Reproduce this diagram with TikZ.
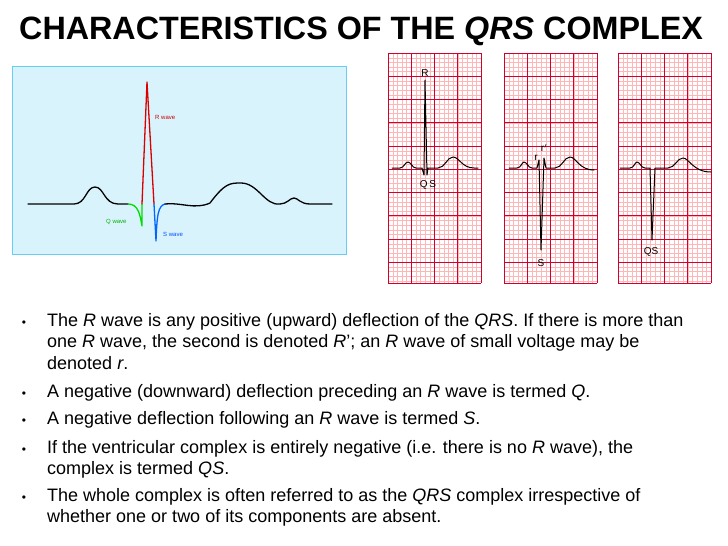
\documentclass[tikz,border=0pt]{standalone}
\usepackage{fontspec}
\setmainfont{Liberation Sans}
\begin{document}
\begin{tikzpicture}[x=1pt,y=-1pt,
  minorg/.style={draw=pink!70!red!60, line width=0.3pt},
  majorg/.style={draw=purple!70!red, line width=0.6pt},
  ecg/.style={line width=1.3pt, line cap=round, line join=round},
  lbl/.style={font=\fontsize{6}{7}\selectfont, inner sep=0pt, anchor=west},
  glbl/.style={font=\fontsize{10}{11}\selectfont, inner sep=0pt},
  bul/.style={anchor=north west, inner sep=0pt, align=left, font=\fontsize{18}{21.7}\selectfont}]
\useasboundingbox (0,0) rectangle (728,546);
\node[anchor=west, inner sep=0pt, font=\fontsize{32.3}{34}\selectfont\bfseries] (title) at (19,31) {CHARACTERISTICS OF THE \textit{QRS} COMPLEX};
% left panel
\draw[fill=cyan!15, draw=cyan!60, line width=0.8pt] (12,66) rectangle (346,254);
\draw[ecg] (28,204) -- (74,204) .. controls (86,204) and (86,187) .. (95,187) .. controls (104,187) and (104,204) .. (118,204) -- (128,204);
\draw[ecg, green!80!black!70!green] (128,204) .. controls (138,204) and (140,214) .. (142,226) -- (142,204);
\draw[ecg, red!85!black] (142,204) -- (147,82) -- (154,204);
\draw[ecg, blue!60!cyan] (154,204) -- (156,241) .. controls (157,215) and (158,206) .. (165,204);
\draw[ecg] (165,204) .. controls (180,202) and (195,210) .. (210,203) .. controls (225,183) and (230,183) .. (241,183) .. controls (258,183) and (265,206) .. (280,204) .. controls (287,204) and (290,198) .. (294,198) .. controls (298,198) and (300,204) .. (310,204) -- (332,204);
\node[lbl, text=red!80!black] (rw) at (155,117) {R wave};
\node[lbl, text=green!70!black] (qw) at (106,222) {Q wave};
\node[lbl, text=blue!70!cyan] (sw) at (163,234) {S wave};
% grids
\foreach \x in {388,504,618}{
  \begin{scope}[shift={(\x,53)}]
    \fill[white] (0,0) rectangle (93,230);
    \foreach \i in {0,...,20} \draw[minorg] (\i*4.65,0) -- (\i*4.65,230);
    \foreach \j in {0,...,49} \draw[minorg] (0,\j*4.65) -- (93,\j*4.65);
    \foreach \i in {0,...,4} \draw[majorg] (\i*23.25,0) -- (\i*23.25,230);
    \foreach \j in {0,...,9} \draw[majorg] (0,\j*23.25) -- (93,\j*23.25);
    \draw[majorg] (93,0) -- (93,230) (0,230) -- (93,230);
  \end{scope}}
\draw[ecg, line width=1pt] (392,168) -- (400,168) .. controls (404,168) and (405,162) .. (408,162) .. controls (411,162) and (412,168) .. (416,168) -- (422,168) -- (424,175) -- (425,80) -- (427,175) -- (428,168) -- (438,168) .. controls (445,168) and (447,157) .. (453,157) .. controls (459,157) and (462,168) .. (474,168) -- (478,168);
\node[glbl] (R1) at (425,73) {R};
\node[glbl] (QS1) at (428,185) {Q\,S};
\draw[ecg, line width=1pt] (509,168) -- (517,168) .. controls (521,168) and (522,162) .. (524,162) .. controls (527,162) and (528,168) .. (532,168) -- (537,168) -- (539,160) -- (541,250) -- (544,158) -- (546,168) -- (555,168) .. controls (562,168) and (564,157) .. (570,157) .. controls (576,157) and (579,170) .. (594,170);
\node[glbl] (r2) at (536,158) {r};
\node[glbl] (rp2) at (544,148) {r$'$};
\node[glbl] (S2) at (541,263) {S};
\draw[ecg, line width=1pt] (620,168) -- (630,168) .. controls (634,168) and (635,162) .. (637,162) .. controls (640,162) and (641,168) .. (645,168) -- (650,168) -- (652,240) -- (655,168) -- (668,168) .. controls (675,168) and (677,158) .. (683,158) .. controls (689,158) and (693,172) .. (711,172);
\node[glbl] (QS3) at (651,252) {QS};
% bullets
\foreach \y in {326,397,424,453,501} \node[anchor=base, inner sep=0pt, font=\fontsize{12}{14}\selectfont] at (24,\y) {•};
\node[bul] (b1) at (47,313) {The \textit{R} wave is any positive (upward) deflection of the \textit{QRS}. If there is more than\\one \textit{R} wave, the second is denoted \textit{R}'; an \textit{R} wave of small voltage may be\\denoted \textit{r}.};
\node[bul] (b2) at (47,384) {A negative (downward) deflection preceding an \textit{R} wave is termed \textit{Q}.};
\node[bul] (b3) at (47,411) {A negative deflection following an \textit{R} wave is termed \textit{S}.};
\node[bul] (b4) at (47,440) {If the ventricular complex is entirely negative (i.e. there is no \textit{R} wave), the\\complex is termed \textit{QS}.};
\node[bul] (b5) at (47,488) {The whole complex is often referred to as the \textit{QRS} complex irrespective of\\whether one or two of its components are absent.};
\end{tikzpicture}
\end{document}
